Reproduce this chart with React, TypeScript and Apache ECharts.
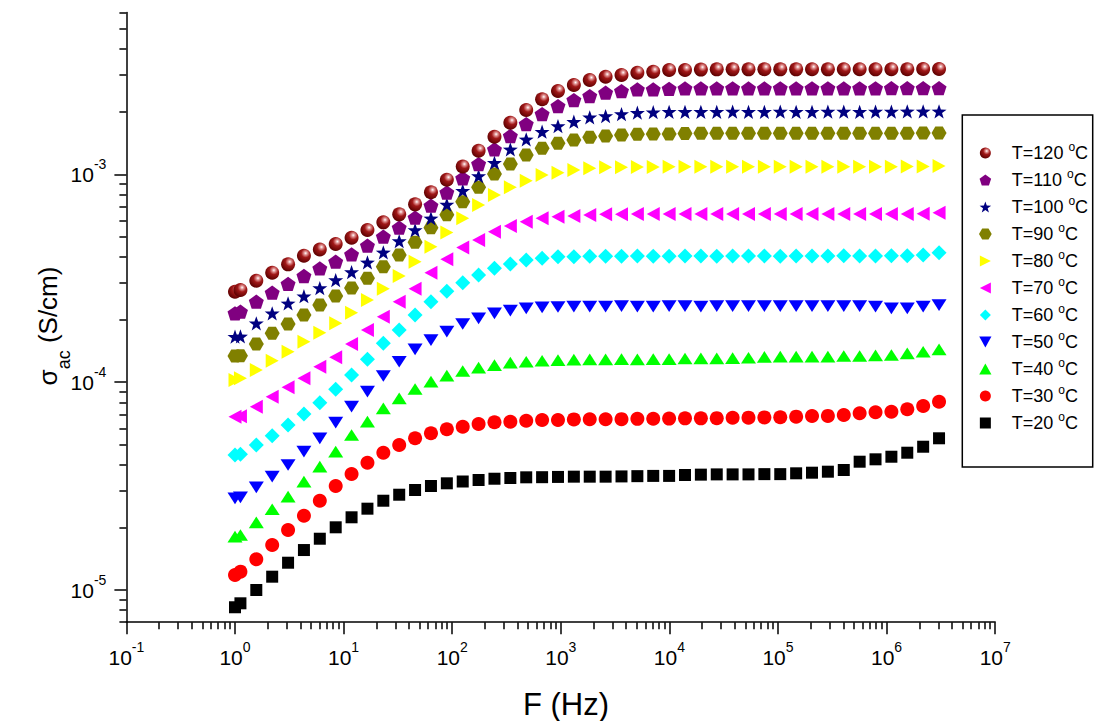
import React, { useEffect, useRef } from 'react';
import * as echarts from 'echarts';

const FONT = 'Arial, "Liberation Sans", Helvetica, sans-serif';

// Frequencies (Hz)
const FREQ_HZ = [
  1.0, 1.122, 1.571, 2.2, 3.081, 4.313, 6.039, 8.458, 11.84, 16.58, 23.22, 32.51, 45.52, 63.74, 89.25,
  125.0, 175.0, 245.0, 343.1, 480.4, 672.7, 941.9, 1319, 1847, 2586, 3622, 5070, 7099, 9940, 13920,
  19490, 27290, 38210, 53500, 74910, 104900, 146900, 205700, 288000, 403300, 564700, 790700, 1107000,
  1550000, 2171000, 3040000,
];

// sigma_ac (S/cm) per temperature
const S20 = [
  8.26e-6, 8.63e-6, 1.0e-5, 1.159e-5, 1.353e-5, 1.557e-5, 1.765e-5, 2.003e-5, 2.238e-5, 2.462e-5, 2.689e-5,
  2.874e-5, 3.028e-5, 3.165e-5, 3.261e-5, 3.327e-5, 3.382e-5, 3.431e-5, 3.458e-5, 3.485e-5, 3.49e-5,
  3.5e-5, 3.51e-5, 3.51e-5, 3.51e-5, 3.52e-5, 3.53e-5, 3.54e-5, 3.54e-5, 3.575e-5,
  3.59e-5, 3.6e-5, 3.6e-5, 3.6e-5, 3.61e-5, 3.61e-5, 3.643e-5, 3.668e-5, 3.709e-5, 3.779e-5,
  4.143e-5, 4.254e-5, 4.378e-5, 4.577e-5, 4.891e-5, 5.37e-5,
];
const S30 = [
  1.181e-5, 1.225e-5, 1.405e-5, 1.646e-5, 1.944e-5, 2.278e-5, 2.689e-5, 3.165e-5, 3.615e-5, 4.098e-5, 4.577e-5,
  4.985e-5, 5.37e-5, 5.675e-5, 5.933e-5, 6.106e-5, 6.292e-5, 6.411e-5, 6.454e-5, 6.526e-5, 6.577e-5,
  6.58e-5, 6.62e-5, 6.63e-5, 6.63e-5, 6.64e-5, 6.66e-5, 6.67e-5, 6.68e-5, 6.7e-5,
  6.7e-5, 6.71e-5, 6.74e-5, 6.75e-5, 6.77e-5, 6.78e-5, 6.822e-5, 6.87e-5, 6.88e-5, 6.95e-5,
  7.082e-5, 7.161e-5, 7.208e-5, 7.403e-5, 7.679e-5, 8.054e-5,
];
const S40 = [
  1.805e-5, 1.839e-5, 2.117e-5, 2.446e-5, 2.811e-5, 3.32e-5, 3.92e-5, 4.628e-5, 5.569e-5, 6.454e-5, 7.485e-5,
  8.364e-5, 9.271e-5, 1.005e-4, 1.076e-4, 1.132e-4, 1.176e-4, 1.209e-4, 1.241e-4, 1.254e-4, 1.268e-4,
  1.278e-4, 1.285e-4, 1.288e-4, 1.288e-4, 1.29e-4, 1.288e-4, 1.29e-4, 1.292e-4, 1.3e-4,
  1.303e-4, 1.303e-4, 1.305e-4, 1.311e-4, 1.322e-4, 1.326e-4, 1.326e-4, 1.328e-4, 1.326e-4, 1.336e-4,
  1.336e-4, 1.347e-4, 1.351e-4, 1.377e-4, 1.401e-4, 1.439e-4,
];
const S50 = [
  2.762e-5, 2.79e-5, 3.12e-5, 3.508e-5, 3.994e-5, 4.628e-5, 5.37e-5, 6.383e-5, 7.619e-5, 8.998e-5, 1.071e-4,
  1.254e-4, 1.439e-4, 1.595e-4, 1.749e-4, 1.905e-4, 2.029e-4, 2.145e-4, 2.208e-4, 2.267e-4, 2.292e-4,
  2.3e-4, 2.31e-4, 2.31e-4, 2.31e-4, 2.32e-4, 2.31e-4, 2.31e-4, 2.32e-4, 2.32e-4,
  2.31e-4, 2.32e-4, 2.32e-4, 2.32e-4, 2.32e-4, 2.32e-4, 2.32e-4, 2.32e-4, 2.32e-4, 2.32e-4,
  2.32e-4, 2.307e-4, 2.267e-4, 2.267e-4, 2.307e-4, 2.35e-4,
];
const S60 = [
  4.462e-5, 4.497e-5, 4.985e-5, 5.526e-5, 6.221e-5, 7.028e-5, 7.965e-5, 9.24e-5, 1.082e-4, 1.288e-4, 1.538e-4,
  1.782e-4, 2.104e-4, 2.438e-4, 2.739e-4, 3.009e-4, 3.278e-4, 3.53e-4, 3.703e-4, 3.87e-4, 3.944e-4,
  4.014e-4, 4.014e-4, 4.03e-4, 4.04e-4, 4.04e-4, 4.05e-4, 4.04e-4, 4.04e-4, 4.05e-4,
  4.05e-4, 4.04e-4, 4.05e-4, 4.05e-4, 4.05e-4, 4.04e-4, 4.05e-4, 4.05e-4, 4.05e-4, 4.06e-4,
  4.05e-4, 4.05e-4, 4.06e-4, 4.06e-4, 4.091e-4, 4.196e-4,
];
const S70 = [
  6.822e-5, 6.85e-5, 7.619e-5, 8.511e-5, 9.445e-5, 1.043e-4, 1.187e-4, 1.317e-4, 1.526e-4, 1.782e-4, 2.065e-4,
  2.438e-4, 2.813e-4, 3.359e-4, 3.905e-4, 4.445e-4, 4.83e-4, 5.295e-4, 5.64e-4, 5.916e-4, 6.143e-4,
  6.252e-4, 6.301e-4, 6.372e-4, 6.421e-4, 6.43e-4, 6.44e-4, 6.44e-4, 6.45e-4, 6.44e-4,
  6.44e-4, 6.44e-4, 6.45e-4, 6.44e-4, 6.44e-4, 6.45e-4, 6.44e-4, 6.44e-4, 6.44e-4, 6.45e-4,
  6.44e-4, 6.44e-4, 6.45e-4, 6.45e-4, 6.46e-4, 6.537e-4,
];
const S80 = [
  1.024e-4, 1.043e-4, 1.144e-4, 1.268e-4, 1.401e-4, 1.565e-4, 1.729e-4, 1.92e-4, 2.159e-4, 2.484e-4, 2.813e-4,
  3.242e-4, 3.797e-4, 4.485e-4, 5.248e-4, 6.143e-4, 7.118e-4, 7.951e-4, 8.657e-4, 9.317e-4, 9.922e-4,
  1.018e-3, 1.049e-3, 1.069e-3, 1.081e-3, 1.081e-3, 1.085e-3, 1.086e-3, 1.088e-3, 1.088e-3,
  1.087e-3, 1.088e-3, 1.088e-3, 1.089e-3, 1.088e-3, 1.088e-3, 1.089e-3, 1.088e-3, 1.088e-3, 1.089e-3,
  1.089e-3, 1.088e-3, 1.089e-3, 1.09e-3, 1.09e-3, 1.096e-3,
];
const S90 = [
  1.336e-4, 1.34e-4, 1.526e-4, 1.718e-4, 1.905e-4, 2.104e-4, 2.35e-4, 2.597e-4, 2.838e-4, 3.16e-4, 3.594e-4,
  4.091e-4, 4.709e-4, 5.535e-4, 6.394e-4, 7.384e-4, 8.657e-4, 1.003e-3, 1.121e-3, 1.239e-3, 1.334e-3,
  1.41e-3, 1.462e-3, 1.507e-3, 1.529e-3, 1.546e-3, 1.56e-3, 1.563e-3, 1.565e-3, 1.57e-3,
  1.575e-3, 1.575e-3, 1.575e-3, 1.578e-3, 1.575e-3, 1.575e-3, 1.578e-3, 1.575e-3, 1.575e-3, 1.578e-3,
  1.578e-3, 1.575e-3, 1.578e-3, 1.578e-3, 1.58e-3, 1.58e-3,
];
const S100 = [
  1.655e-4, 1.66e-4, 1.92e-4, 2.145e-4, 2.395e-4, 2.591e-4, 2.838e-4, 3.101e-4, 3.388e-4, 3.772e-4, 4.215e-4,
  4.777e-4, 5.395e-4, 6.143e-4, 7.157e-4, 8.34e-4, 9.813e-4, 1.137e-3, 1.319e-3, 1.474e-3, 1.603e-3,
  1.708e-3, 1.791e-3, 1.881e-3, 1.908e-3, 1.95e-3, 1.979e-3, 1.99e-3, 2.0e-3, 2.0e-3,
  2.0e-3, 2.0e-3, 2.005e-3, 2.0e-3, 2.0e-3, 2.005e-3, 2.0e-3, 2.0e-3, 2.005e-3, 2.005e-3,
  2.0e-3, 2.005e-3, 2.005e-3, 2.01e-3, 2.01e-3, 2.01e-3,
];
const S110 = [
  2.145e-4, 2.183e-4, 2.438e-4, 2.694e-4, 2.973e-4, 3.242e-4, 3.53e-4, 3.797e-4, 4.122e-4, 4.535e-4, 5.009e-4,
  5.535e-4, 6.184e-4, 7.063e-4, 8.175e-4, 9.568e-4, 1.121e-3, 1.319e-3, 1.529e-3, 1.746e-3, 1.95e-3,
  2.131e-3, 2.278e-3, 2.381e-3, 2.47e-3, 2.517e-3, 2.564e-3, 2.564e-3, 2.58e-3, 2.59e-3,
  2.59e-3, 2.59e-3, 2.595e-3, 2.59e-3, 2.59e-3, 2.595e-3, 2.59e-3, 2.595e-3, 2.595e-3, 2.59e-3,
  2.595e-3, 2.595e-3, 2.6e-3, 2.6e-3, 2.6e-3, 2.6e-3,
];
const S120 = [
  2.724e-4, 2.776e-4, 3.077e-4, 3.362e-4, 3.69e-4, 4.059e-4, 4.347e-4, 4.62e-4, 4.955e-4, 5.395e-4, 5.876e-4,
  6.421e-4, 7.173e-4, 8.194e-4, 9.419e-4, 1.09e-3, 1.299e-3, 1.517e-3, 1.772e-3, 2.039e-3, 2.296e-3,
  2.517e-3, 2.69e-3, 2.843e-3, 2.949e-3, 3.005e-3, 3.082e-3, 3.116e-3, 3.176e-3, 3.176e-3,
  3.19e-3, 3.2e-3, 3.2e-3, 3.2e-3, 3.205e-3, 3.2e-3, 3.2e-3, 3.205e-3, 3.2e-3, 3.2e-3,
  3.205e-3, 3.2e-3, 3.205e-3, 3.205e-3, 3.21e-3, 3.21e-3,
];

const SERIES_NAMES = [
  'T=120 °C', 'T=110 °C', 'T=100 °C', 'T=90 °C', 'T=80 °C', 'T=70 °C',
  'T=60 °C', 'T=50 °C', 'T=40 °C', 'T=30 °C', 'T=20 °C',
];
const SERIES_VALUES = [S120, S110, S100, S90, S80, S70, S60, S50, S40, S30, S20];

// Axis ticks
const X_MAJOR = [0.1, 1, 10, 100, 1e3, 1e4, 1e5, 1e6, 1e7];
const Y_MAJOR = [1e-5, 1e-4, 1e-3];
const MINOR_MULTS = [2, 3, 4, 5, 6, 7, 8, 9];
const X_DECADES = [0.1, 1, 10, 100, 1e3, 1e4, 1e5, 1e6];
const Y_DECADES = [1e-6, 1e-5, 1e-4, 1e-3];
const X_MIN = 0.1;
const X_MAX = 1e7;
const Y_MIN = 7e-6;
const Y_MAX = 6e-3;

const X_MINOR = X_DECADES.flatMap((d) => MINOR_MULTS.map((m) => m * d));
const Y_MINOR = Y_DECADES.flatMap((d) => MINOR_MULTS.map((m) => m * d)).filter(
  (v) => v >= Y_MIN * 0.999 && v <= Y_MAX * 1.001
);

const SPHERE = {
  type: 'radial',
  x: 0.62,
  y: 0.32,
  r: 0.7,
  colorStops: [
    { offset: 0, color: '#ffffff' },
    { offset: 0.18, color: '#e09090' },
    { offset: 0.45, color: '#a01818' },
    { offset: 1, color: '#5c0000' },
  ],
};

const STYLES: { color: any; symbol: string; size: number | number[] }[] = [
  { color: SPHERE, symbol: 'circle', size: 14 },
  { color: '#800080', symbol: 'path://M50,0 L97.6,34.5 L79.4,90.5 L20.6,90.5 L2.4,34.5 Z', size: 15 },
  {
    color: '#000080',
    symbol:
      'path://M50,0 L61.76,33.82 L97.55,34.55 L69.02,56.18 L79.39,90.45 L50,70 L20.61,90.45 L30.98,56.18 L2.45,34.55 L38.24,33.82 Z',
    size: 15,
  },
  { color: '#808000', symbol: 'path://M25,6.7 L75,6.7 L100,50 L75,93.3 L25,93.3 L0,50 Z', size: 15 },
  { color: '#ffff00', symbol: 'path://M0,0 L10,5 L0,10 Z', size: [13, 14] },
  { color: '#ff00ff', symbol: 'path://M10,0 L0,5 L10,10 Z', size: [13, 14] },
  { color: '#00ffff', symbol: 'path://M5,0 L10,5 L5,10 L0,5 Z', size: 15 },
  { color: '#0000ff', symbol: 'path://M0,0 L10,0 L5,9 Z', size: [15, 13] },
  { color: '#00ff00', symbol: 'path://M5,0 L10,9 L0,9 Z', size: [15, 13] },
  { color: '#ff0000', symbol: 'circle', size: 14 },
  { color: '#000000', symbol: 'path://M0,0 L10,0 L10,10 L0,10 Z', size: 12 },
];

const supLabel = (v: number) => {
  const e = Math.round(Math.log10(v));
  return `{b|10}{sup|${e}}`;
};

const AXIS_LABEL_RICH = {
  b: { fontSize: 21, lineHeight: 34, fontFamily: FONT, color: '#000' },
  sup: { fontSize: 14, lineHeight: 14, verticalAlign: 'top', fontFamily: FONT, color: '#000' },
};

function buildOption() {
  const series = SERIES_NAMES.map((name, i) => ({
    name,
    type: 'scatter',
    xAxisIndex: 0,
    yAxisIndex: 0,
    data: FREQ_HZ.map((f, j) => [f, SERIES_VALUES[i][j]]),
    symbol: STYLES[i].symbol,
    symbolSize: STYLES[i].size,
    symbolKeepAspect: true,
    itemStyle: { color: STYLES[i].color, opacity: 1, borderWidth: 0 },
    emphasis: { disabled: true },
    z: 2 + (SERIES_NAMES.length - i),
  }));

  return {
    animation: false,
    backgroundColor: '#ffffff',
    grid: { left: 126.4, right: 108.8, top: 12.6, bottom: 98.8, containLabel: false },
    legend: {
      orient: 'vertical',
      left: 979,
      top: 141,
      padding: 0,
      itemGap: 3,
      itemWidth: 43,
      itemHeight: 11,
      symbolKeepAspect: true,
      selectedMode: false,
      data: SERIES_NAMES,
      formatter: (name: string) => {
        const base = name.replace(' °C', ' ');
        return `{t|${base}}{sup|o}{t|C}`;
      },
      textStyle: {
        fontSize: 18,
        lineHeight: 24,
        fontFamily: FONT,
        color: '#000',
        rich: {
          t: { fontSize: 18, lineHeight: 24, fontFamily: FONT, color: '#000' },
          sup: { fontSize: 12, lineHeight: 12, verticalAlign: 'top', fontFamily: FONT, color: '#000' },
        },
      },
    },
    xAxis: [
      {
        type: 'log',
        logBase: 10,
        min: X_MIN,
        max: X_MAX,
        position: 'bottom',
        axisLine: { show: true, onZero: false, lineStyle: { color: '#000', width: 1.5 } },
        axisTick: {
          show: true,
          inside: false,
          length: 12,
          customValues: X_MAJOR,
          lineStyle: { color: '#000', width: 1.5 },
        },
        axisLabel: {
          customValues: X_MAJOR,
          formatter: supLabel,
          margin: 18,
          fontSize: 21,
          lineHeight: 34,
          fontFamily: FONT,
          color: '#000',
          rich: AXIS_LABEL_RICH,
        },
        splitLine: { show: false },
        minorTick: { show: false },
      },
      {
        type: 'log',
        logBase: 10,
        min: X_MIN,
        max: X_MAX,
        position: 'bottom',
        offset: 0,
        axisLine: { show: false, onZero: false },
        axisTick: {
          show: true,
          inside: false,
          length: 7,
          customValues: X_MINOR,
          lineStyle: { color: '#000', width: 1.5 },
        },
        axisLabel: { show: false },
        splitLine: { show: false },
      },
    ],
    yAxis: [
      {
        type: 'log',
        logBase: 10,
        min: Y_MIN,
        max: Y_MAX,
        position: 'left',
        axisLine: { show: true, onZero: false, lineStyle: { color: '#000', width: 1.5 } },
        axisTick: {
          show: true,
          inside: false,
          length: 12,
          customValues: Y_MAJOR,
          lineStyle: { color: '#000', width: 1.5 },
        },
        axisLabel: {
          customValues: Y_MAJOR,
          formatter: supLabel,
          margin: 20,
          fontSize: 21,
          lineHeight: 34,
          fontFamily: FONT,
          color: '#000',
          rich: AXIS_LABEL_RICH,
        },
        splitLine: { show: false },
      },
      {
        type: 'log',
        logBase: 10,
        min: Y_MIN,
        max: Y_MAX,
        position: 'left',
        offset: 0,
        axisLine: { show: false, onZero: false },
        axisTick: {
          show: true,
          inside: false,
          length: 7,
          customValues: Y_MINOR,
          lineStyle: { color: '#000', width: 1.5 },
        },
        axisLabel: { show: false },
        splitLine: { show: false },
      },
    ],
    graphic: [
      {
        type: 'rect',
        shape: { x: 962.3, y: 115, width: 130.4, height: 352 },
        style: { fill: 'none', stroke: '#000', lineWidth: 1.5 },
        silent: true,
      },
      {
        type: 'text',
        x: 566,
        y: 704,
        style: {
          text: 'F (Hz)',
          fontSize: 31,
          fontFamily: FONT,
          fill: '#000',
          align: 'center',
          verticalAlign: 'middle',
          textAlign: 'center',
          textVerticalAlign: 'middle',
        },
        silent: true,
      },
      {
        type: 'text',
        x: 48,
        y: 326,
        rotation: Math.PI / 2,
        style: {
          text: 'σ{sub|ac} (S/cm)',
          fontSize: 26,
          fontFamily: FONT,
          lineHeight: 50,
          fill: '#000',
          align: 'center',
          verticalAlign: 'middle',
          textAlign: 'center',
          textVerticalAlign: 'middle',
          rich: {
            sub: { fontSize: 18, fontFamily: FONT, lineHeight: 20, verticalAlign: 'bottom', fill: '#000' },
          },
        },
        silent: true,
      },
    ],
    series,
  };
}

export default function App() {
  const ref = useRef<HTMLDivElement>(null);
  useEffect(() => {
    if (!ref.current) return;
    const chart = echarts.init(ref.current, undefined, { renderer: 'svg' });
    chart.setOption(buildOption() as any);
    return () => {
      chart.dispose();
    };
  }, []);
  return (
    <div
      ref={ref}
      style={{ position: 'absolute', left: 0, top: 0, width: 1104, height: 721, background: '#ffffff' }}
    />
  );
}
